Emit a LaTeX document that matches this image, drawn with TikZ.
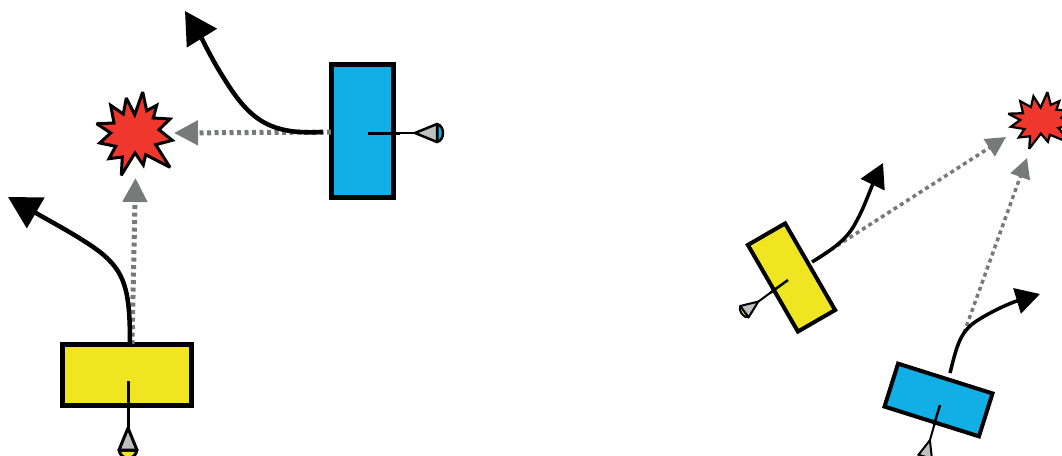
\documentclass[tikz,border=0pt]{standalone}
\usetikzlibrary{arrows.meta}
\definecolor{carY}{RGB}{239,230,33}
\definecolor{carB}{RGB}{18,175,230}
\definecolor{burst}{RGB}{240,55,45}
\definecolor{sight}{RGB}{120,122,122}
\definecolor{finG}{RGB}{190,192,192}
\tikzset{
  x=1pt,y=-1pt,
  car/.style={draw=black,rectangle,inner sep=0pt,line join=miter},
  smallcar/.style={car,line width=4pt},
  move/.style={draw=black,line cap=butt,-{Triangle[length=#1*1pt,width=#1*1.08pt]}},
  sightline/.style={draw=sight,dash pattern=on 4pt off 3.5pt,-{Triangle[length=#1*1pt,width=#1*1pt,sep=0pt]}},
  boom/.style={draw=black,fill=burst,line join=miter,miter limit=3},
}
\newcommand{\dartshape}[3]{%
  \draw[line width=#2] (0,0) -- (0,50);
  \path[draw=black,fill=#1,line width=#2,line join=round] (-9,69) .. controls (-7,#3) and (7,#3) .. (9,69) -- cycle;
  \path[draw=black,fill=finG,line width=#2,line join=round] (0,47) -- (-9,69) -- (9,69) -- cycle;
}
\newcommand{\burstshape}[1]{%
  \path[boom,line width=#1] (8.7,-41) -- (12.7,-22.3) -- (22.7,-27.7) -- (19.3,-15) -- (36,-14) -- (25,-3.3) -- (38.3,7.3) -- (21.7,11.7) -- (36,34.3) -- (11.7,21.7) -- (9.3,32) -- (1,20) -- (-12.7,42.3) -- (-11.7,24) -- (-25,25.7) -- (-18.3,13.3) -- (-34.3,10) -- (-23.3,0) -- (-37.3,-9.3) -- (-20,-10) -- (-23.3,-27.7) -- (-10.7,-19) -- (-7.7,-35) -- (0.7,-18.3) -- cycle;
}
\begin{document}
\begin{tikzpicture}
\useasboundingbox (0,0) rectangle (1062,455);
% named anchors
\coordinate (a1) at (130,344); \coordinate (a2) at (8,197);
\coordinate (b1) at (323,132); \coordinate (b2) at (185,11);
\coordinate (c1) at (812,262); \coordinate (c2) at (883,163);
\coordinate (d1) at (950,373); \coordinate (d2) at (1040,294);
\coordinate (sa1) at (132,344); \coordinate (sa2) at (135.5,178);
\coordinate (sb1) at (331,132); \coordinate (sb2) at (174,133);
\coordinate (sc1) at (818,258); \coordinate (sc2) at (1006,137);
\coordinate (sd1) at (964,333); \coordinate (sd2) at (1027,158);
% bursts
\begin{scope}[shift={(134,133)}] \burstshape{3pt} \end{scope}
\begin{scope}[shift={(1040,120)},xscale=0.85,yscale=0.68] \burstshape{2.2pt} \end{scope}
% darts
\begin{scope}[shift={(128,381)}] \dartshape{carY}{3pt}{80} \end{scope}
\begin{scope}[shift={(368,133)},rotate=90] \dartshape{carB}{2.5pt}{77} \end{scope}
\begin{scope}[shift={(788,280)},rotate=-54,scale=0.78] \dartshape{carY}{2pt}{75} \end{scope}
\begin{scope}[shift={(940,405)},rotate=-16,scale=0.78] \dartshape{carB}{2pt}{75} \end{scope}
% cars
\node[car,line width=5pt,fill=carY,minimum width=129pt,minimum height=61pt] (yl) at (127,375) {};
\node[car,line width=5pt,fill=carB,minimum width=62pt,minimum height=133pt] (bl) at (362.5,131) {};
\node[smallcar,fill=carY,minimum width=43pt,minimum height=100pt,rotate=30] (yr) at (791.5,277.5) {};
\node[smallcar,fill=carB,minimum width=99pt,minimum height=45pt,rotate=-17.5] (br) at (938.5,400) {};
\draw[line width=3pt] (128,381) -- (128,410);
\draw[line width=3pt] (368,133) -- (400,133);
\draw[line width=2.5pt] (788,280) -- (770,293);
\draw[line width=2.5pt] (940,405) -- (934,425);
% sight lines
\path[sightline=24,line width=5pt] (sa1) -- (sa2);
\path[sightline=24,line width=5pt] (sb1) -- (sb2);
\path[sightline=20,line width=3.5pt] (sc1) -- (sc2);
\path[sightline=20,line width=3.5pt] (sd1) -- (sd2);
% motion
\path[move=32,line width=4.5pt] (a1) .. controls (130,290) and (125,272) .. (100,252) .. controls (80,237) and (55,224) .. (a2);
\path[move=32,line width=4.5pt] (b1) .. controls (270,135) and (250,120) .. (225,80) .. controls (212,60) and (200,35) .. (b2);
\path[move=24,line width=3.5pt] (c1) .. controls (835,248) and (848,238) .. (856,222) .. controls (864,208) and (870,190) .. (c2);
\path[move=24,line width=3.5pt] (d1) .. controls (957,345) and (960,333) .. (975,322) .. controls (990,312) and (1010,303) .. (d2);
\end{tikzpicture}
\end{document}
